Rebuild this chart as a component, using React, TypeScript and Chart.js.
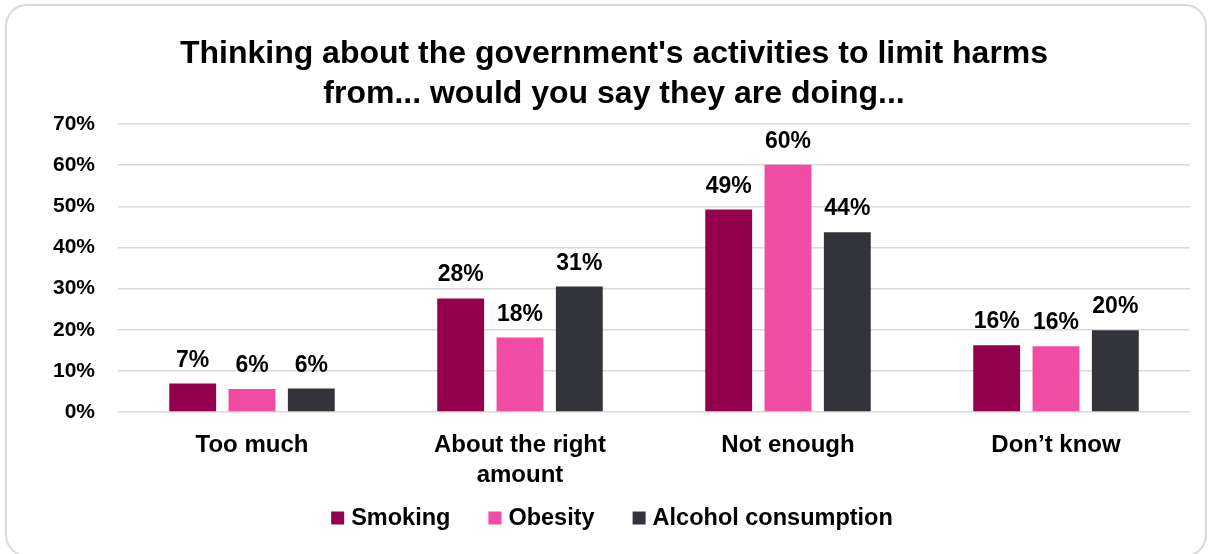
import React, { useEffect, useRef } from 'react';
import { Chart, registerables } from 'chart.js';

Chart.register(...registerables);

const titleLines = [
  "Thinking about the government's activities to limit harms",
  'from... would you say they are doing...',
];
const categories = [['Too much'], ['About the right', 'amount'], ['Not enough'], ['Don’t know']];
const seriesNames = ['Smoking', 'Obesity', 'Alcohol consumption'];
const smoking = [6.9, 27.6, 49.2, 16.2];
const obesity = [5.6, 18.1, 60.1, 16.0];
const alcohol = [5.7, 30.5, 43.7, 19.9];
const seriesColors = ['#93004b', '#f04ca3', '#333439'];
const yMin = 0;
const yMax = 70;
const yStep = 10;

const FONT = "'Liberation Sans', Arial, Helvetica, sans-serif";

const dataLabelPlugin = {
  id: 'dataLabels',
  afterDatasetsDraw(chart: any) {
    const ctx = chart.ctx;
    ctx.save();
    ctx.font = `bold 23px ${FONT}`;
    ctx.fillStyle = '#000';
    ctx.textAlign = 'center';
    ctx.textBaseline = 'alphabetic';
    chart.data.datasets.forEach((ds: any, i: number) => {
      const meta = chart.getDatasetMeta(i);
      meta.data.forEach((bar: any, j: number) => {
        ctx.fillText(Math.round(ds.data[j]) + '%', bar.x, bar.y - 17);
      });
    });
    ctx.restore();
  },
};

const legendPlugin = {
  id: 'customLegend',
  afterDraw(chart: any) {
    const ctx = chart.ctx;
    ctx.save();
    ctx.font = `bold 23.5px ${FONT}`;
    const box = 13;
    const gapText = 7;
    const gapItem = 38;
    const widths = chart.data.datasets.map((ds: any) => ctx.measureText(ds.label).width);
    let total = 0;
    widths.forEach((w: number, i: number) => {
      total += box + gapText + w + (i < widths.length - 1 ? gapItem : 0);
    });
    const cy = 518;
    let x = 612 - total / 2;
    ctx.textBaseline = 'middle';
    ctx.textAlign = 'left';
    chart.data.datasets.forEach((ds: any, i: number) => {
      ctx.fillStyle = ds.backgroundColor;
      ctx.fillRect(x, cy - box / 2, box, box);
      x += box + gapText;
      ctx.fillStyle = '#000';
      ctx.fillText(ds.label, x, cy + 1);
      x += widths[i] + gapItem;
    });
    ctx.restore();
  },
};

export default function App() {
  const canvasRef = useRef<HTMLCanvasElement | null>(null);

  useEffect(() => {
    document.body.style.margin = '0';
    const canvas = canvasRef.current;
    if (!canvas) return;
    const series = [smoking, obesity, alcohol];
    const chart = new Chart(canvas, {
      type: 'bar',
      data: {
        labels: categories as any,
        datasets: series.map((d, i) => ({
          label: seriesNames[i],
          data: d,
          backgroundColor: seriesColors[i],
          borderWidth: 0,
          barPercentage: 0.79,
          categoryPercentage: 0.664,
        })),
      },
      options: {
        responsive: false,
        animation: false,
        layout: { padding: { left: 38, right: 18, top: 0, bottom: 0 } },
        plugins: {
          legend: { display: false },
          tooltip: { enabled: false },
          title: {
            display: true,
            text: titleLines,
            color: '#000',
            font: { family: FONT, size: 32, weight: 'bold', lineHeight: 1.25 },
            padding: { top: 34, bottom: 10 },
          },
        },
        scales: {
          x: {
            grid: { display: false, drawTicks: false },
            border: { display: false },
            ticks: {
              color: '#000',
              font: { family: FONT, size: 24, weight: 'bold', lineHeight: 1.25 },
              padding: 18,
              maxRotation: 0,
              autoSkip: false,
            },
            afterFit: (scale: any) => {
              scale.height = 142;
            },
          },
          y: {
            min: yMin,
            max: yMax,
            grid: { color: '#d9d9d9', lineWidth: 1.5, drawTicks: false },
            border: { display: false },
            ticks: {
              stepSize: yStep,
              color: '#000',
              font: { family: FONT, size: 21, weight: 'bold' },
              padding: 23,
              callback: (v: any) => v + '%',
            },
            afterFit: (scale: any) => {
              scale.width = 80;
            },
          },
        },
      },
      plugins: [dataLabelPlugin, legendPlugin],
    });
    return () => chart.destroy();
  }, []);

  return (
    <div style={{ position: 'fixed', left: 0, top: 0, width: 1208, height: 554, background: '#fff', overflow: 'hidden' }}>
      <div
        style={{
          position: 'absolute',
          left: 5,
          top: 4,
          width: 1202,
          height: 553,
          boxSizing: 'border-box',
          border: '2px solid #d9d9d9',
          borderRadius: 22,
        }}
      />
      <canvas ref={canvasRef} width={1208} height={554} style={{ position: 'absolute', left: 0, top: 0 }} />
    </div>
  );
}
